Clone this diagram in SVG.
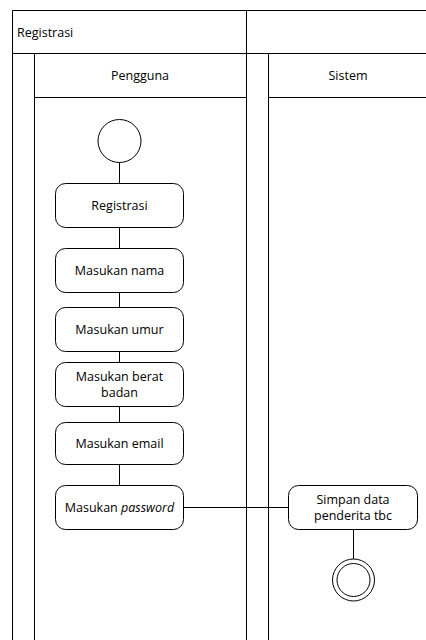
<svg xmlns="http://www.w3.org/2000/svg" width="426" height="640" viewBox="0 0 426 640">
  <style>
    .lane { fill: none; stroke: #000; stroke-width: 1; }
    .act { fill: #fff; stroke: #000; stroke-width: 1; }
    .edge { fill: none; stroke: #000; stroke-width: 1; }
    text { font-family: "Open Sans", "Liberation Sans", sans-serif; font-size: 12.5px; fill: #000; }
    .c { text-anchor: middle; }
  </style>
  <rect width="426" height="640" fill="#fff"/>

  <!-- swimlane frame -->
  <g id="pool">
    <path class="lane" d="M12.5 640 V10.5 H430"/>
    <path class="lane" d="M12.5 53.5 H430"/>
    <path class="lane" d="M246.5 10.5 V640"/>
    <path class="lane" d="M34.5 53.5 V640"/>
    <path class="lane" d="M268.5 53.5 V640"/>
    <path class="lane" d="M34.5 97.5 H246.5"/>
    <path class="lane" d="M268.5 97.5 H430"/>
    <text x="17" y="37">Registrasi</text>
    <text class="c" x="140" y="80">Pengguna</text>
    <text class="c" x="348" y="80">Sistem</text>
  </g>

  <!-- connectors -->
  <g id="connectors">
    <path class="edge" d="M119.5 162 V183.5"/>
    <path class="edge" d="M119.5 227.5 V248.5"/>
    <path class="edge" d="M119.5 292.5 V307.5"/>
    <path class="edge" d="M119.5 351.5 V362.5"/>
    <path class="edge" d="M119.5 406.5 V422.5"/>
    <path class="edge" d="M119.5 464.5 V485.5"/>
    <path class="edge" d="M183.5 507.5 H288.5"/>
    <path class="edge" d="M353.5 529.5 V559"/>
  </g>

  <g id="start">
    <circle class="act" cx="119.5" cy="141" r="21.5"/>
  </g>

  <g id="registrasi">
    <rect class="act" x="55.5" y="183.5" width="128" height="44" rx="10"/>
    <text class="c" x="119.5" y="210">Registrasi</text>
  </g>

  <g id="nama">
    <rect class="act" x="55.5" y="248.5" width="128" height="44" rx="10"/>
    <text class="c" x="119.5" y="275">Masukan nama</text>
  </g>

  <g id="umur">
    <rect class="act" x="55.5" y="307.5" width="128" height="44" rx="10"/>
    <text class="c" x="119.5" y="334">Masukan umur</text>
  </g>

  <g id="berat">
    <rect class="act" x="55.5" y="362.5" width="128" height="44" rx="10"/>
    <text class="c" x="119.5" y="381">Masukan berat</text>
    <text class="c" x="119.5" y="397">badan</text>
  </g>

  <g id="email">
    <rect class="act" x="55.5" y="422.5" width="128" height="42" rx="10"/>
    <text class="c" x="119.5" y="448">Masukan email</text>
  </g>

  <g id="password">
    <rect class="act" x="55.5" y="485.5" width="128" height="44" rx="10"/>
    <text class="c" x="119.5" y="512">Masukan <tspan font-style="italic">password</tspan></text>
  </g>

  <g id="simpan">
    <rect class="act" x="288.5" y="485.5" width="129" height="44" rx="10"/>
    <text class="c" x="353" y="504">Simpan data</text>
    <text class="c" x="353" y="520">penderita tbc</text>
  </g>

  <g id="end">
    <circle class="act" cx="353.5" cy="580" r="21"/>
    <circle class="act" cx="353.5" cy="580" r="16.5"/>
  </g>
</svg>
